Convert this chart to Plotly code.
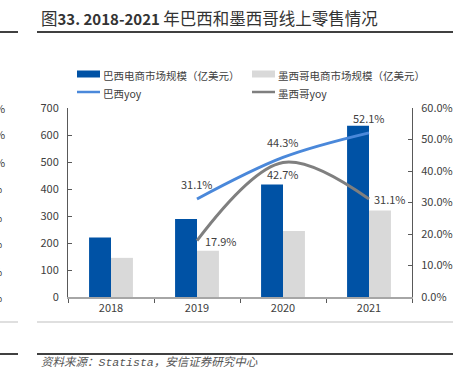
import plotly.graph_objects as go

years = ["2018", "2019", "2020", "2021"]
brazil_size = [220, 289, 417, 634]
mexico_size = [145, 171, 244, 320]
yoy_years = ["2019", "2020", "2021"]
brazil_yoy = [31.1, 44.3, 52.1]
mexico_yoy = [17.9, 42.7, 31.1]

BLUE = "#0052A5"
LGRAY = "#D9D9D9"
LBLUE = "#4A88DA"
DGRAY = "#7F7F7F"
TXT = "#404040"
FONT = "Noto Sans CJK SC, Noto Sans, sans-serif"

W, H = 460, 369
X0, X1, YT, YB = 68, 412, 108, 297


def px(x):
    return (x - X0) / (X1 - X0)


def py(y):
    return (YB - y) / (YB - YT)


fig = go.Figure()
fig.add_trace(go.Bar(x=years, y=brazil_size, name="巴西电商市场规模（亿美元）",
                     marker=dict(color=BLUE, line=dict(width=0))))
fig.add_trace(go.Bar(x=years, y=mexico_size, name="墨西哥电商市场规模（亿美元）",
                     marker=dict(color=LGRAY, line=dict(width=0))))
fig.add_trace(go.Scatter(x=yoy_years, y=brazil_yoy, yaxis="y2", mode="lines",
                         name="巴西yoy", line=dict(color=LBLUE, width=3, shape="spline", smoothing=1.0)))
fig.add_trace(go.Scatter(x=yoy_years, y=mexico_yoy, yaxis="y2", mode="lines",
                         name="墨西哥yoy", line=dict(color=DGRAY, width=3, shape="spline", smoothing=1.0)))

shapes = []
annotations = []

# data labels (x given as category index)
lab_font = dict(size=11, color=TXT, family=FONT)
for x, v in zip(yoy_years, brazil_yoy):
    annotations.append(dict(xref="x", yref="y2", x=years.index(x), y=v, text=f"{v:.1f}%", showarrow=False,
                            xanchor="center", yanchor="middle", yshift=15, font=lab_font))
mex_style = [("left", 6, 0), ("center", 0, -11), ("left", 3, 0)]
for (x, v), (anc, xs, ys) in zip(zip(yoy_years, mexico_yoy), mex_style):
    annotations.append(dict(xref="x", yref="y2", x=years.index(x), y=v, text=f"{v:.1f}%", showarrow=False,
                            xanchor=anc, yanchor="middle", xshift=xs, yshift=ys, font=lab_font))

# header & footer rules
for y, col, w in [(32, "#000000", 1.5), (322, "#BFBFBF", 1), (354, "#000000", 1.5)]:
    shapes.append(dict(type="line", xref="paper", yref="paper", x0=px(37), x1=px(453), y0=py(y), y1=py(y),
                       line=dict(color=col, width=w)))
    shapes.append(dict(type="line", xref="paper", yref="paper", x0=px(0), x1=px(18), y0=py(y), y1=py(y),
                       line=dict(color=col, width=w)))

annotations.append(dict(xref="paper", yref="paper", x=px(39), y=py(18), xanchor="left", yanchor="middle",
                        text=("<span style='font-size:16.5px'>图</span><b>33. 2018-2021</b> "
                              "<span style='font-size:16.5px'>年巴西和墨西哥线上零售情况</span>"),
                        showarrow=False, font=dict(size=15, color="#333333", family=FONT)))
annotations.append(dict(xref="paper", yref="paper", x=px(39), y=py(361), xanchor="left", yanchor="middle",
                        text=("<i>资料来源：<span style='font-family:Liberation Mono, DejaVu Sans Mono, monospace'>"
                              "Statista</span>，安信证券研究中心</i>"),
                        showarrow=False, font=dict(size=11.5, color="#555555", family=FONT)))

# manual legend
leg = [
    ("rect", BLUE, 77, 74, "巴西电商市场规模（亿美元）"),
    ("rect", LGRAY, 252, 74, "墨西哥电商市场规模（亿美元）"),
    ("line", LBLUE, 77, 92, "巴西yoy"),
    ("line", DGRAY, 252, 92, "墨西哥yoy"),
]
for kind, col, x, y, label in leg:
    if kind == "rect":
        shapes.append(dict(type="rect", xref="paper", yref="paper", x0=px(x), x1=px(x + 23),
                           y0=py(y + 3.5), y1=py(y - 3.5), fillcolor=col, line=dict(width=0)))
    else:
        shapes.append(dict(type="line", xref="paper", yref="paper", x0=px(x), x1=px(x + 23),
                           y0=py(y), y1=py(y), line=dict(color=col, width=2.5)))
    annotations.append(dict(xref="paper", yref="paper", x=px(x + 24), y=py(y + 1), xanchor="left", yanchor="middle",
                            text=label, showarrow=False, font=dict(size=10.5, color=TXT, family=FONT)))

# cropped neighbour fragments on the left edge
for i, y in enumerate([108, 134, 162, 188, 217, 243, 271, 297]):
    annotations.append(dict(xref="paper", yref="paper", x=px(7 if i < 3 else 4), y=py(y), xanchor="right",
                            yanchor="middle", text="%", showarrow=False,
                            font=dict(size=11, color=TXT, family=FONT)))

fig.update_layout(
    width=W, height=H,
    margin=dict(l=X0, r=W - X1, t=YT, b=H - YB, pad=0, autoexpand=False),
    paper_bgcolor="white", plot_bgcolor="white",
    showlegend=False,
    barmode="group", bargap=0.49, bargroupgap=0,
    font=dict(family=FONT, size=11, color=TXT),
    xaxis=dict(type="category", range=[-0.5, 3.5], showline=True, linecolor="#A6A6A6", linewidth=1.5,
               ticks="outside", ticklen=4, tickcolor="#595959", tickson="boundaries", automargin=False,
               showgrid=False, tickfont=dict(size=11, color=TXT)),
    yaxis=dict(range=[0, 700], dtick=100, showline=True, linecolor="#595959", linewidth=1, automargin=False,
               ticks="inside", ticklen=4, tickcolor="#595959", showgrid=False, zeroline=False,
               tickfont=dict(size=11, color=TXT), ticklabelstandoff=6),
    yaxis2=dict(range=[0, 60], dtick=10, overlaying="y", side="right", showline=True, automargin=False,
                linecolor="#595959", linewidth=1, ticks="inside", ticklen=4, tickcolor="#595959",
                showgrid=False, zeroline=False, ticksuffix="%", tickformat=".1f",
                tickfont=dict(size=11, color=TXT), ticklabelstandoff=6),
    shapes=shapes, annotations=annotations,
)

fig.write_html("out.html", config={"displayModeBar": False},
               post_script="document.body.style.margin='0';document.body.style.padding='0';")
